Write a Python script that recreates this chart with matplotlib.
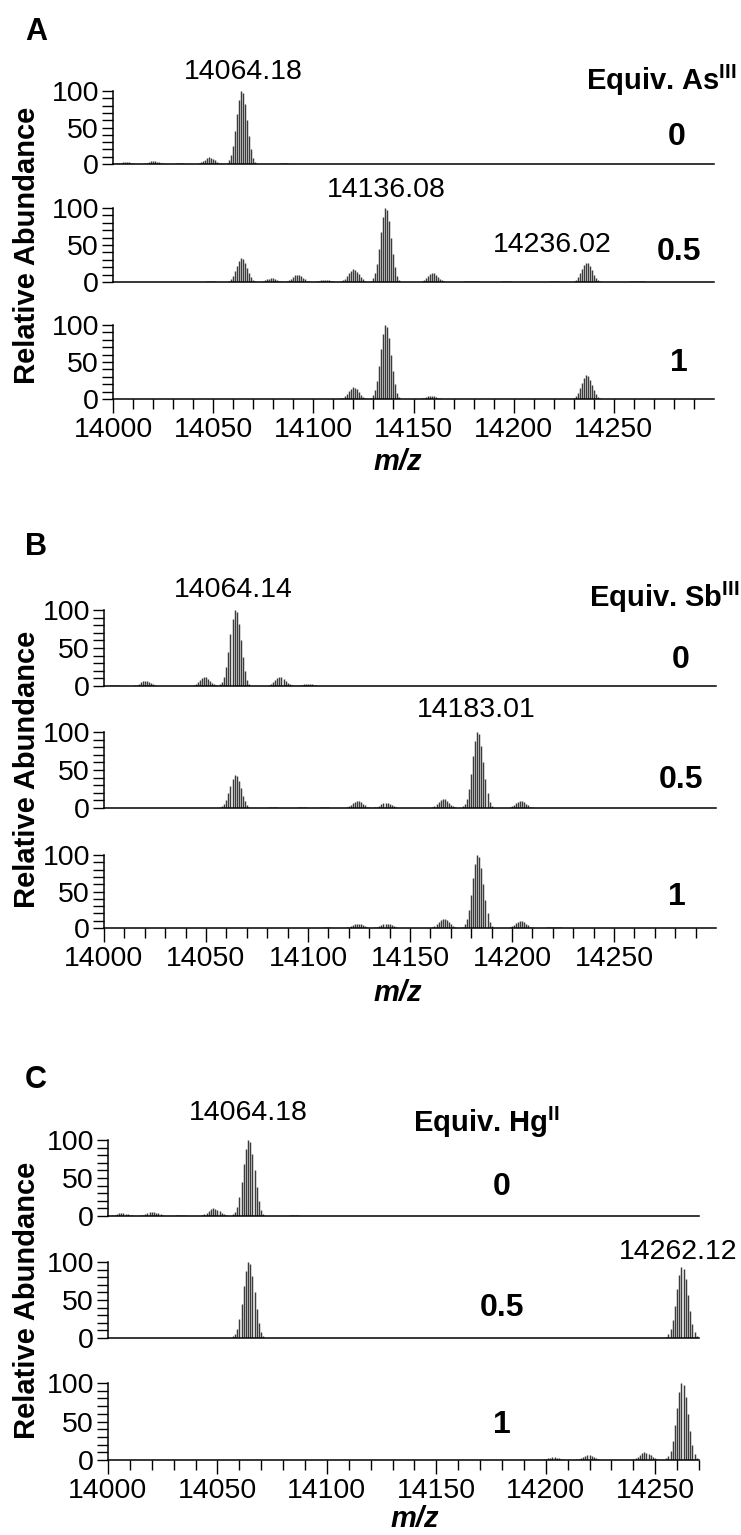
import matplotlib
matplotlib.use("Agg")
import matplotlib.pyplot as plt
import numpy as np

plt.rcParams['font.family'] = ['Liberation Sans', 'DejaVu Sans']
plt.rcParams['mathtext.fontset'] = 'custom'
plt.rcParams['mathtext.rm'] = 'Liberation Sans'
plt.rcParams['mathtext.bf'] = 'Liberation Sans:bold'

# peak clusters: centre m/z and relative height
A0_MZ = [14006, 14020, 14033, 14048, 14064, 14085]
A0_INT = [3, 4, 1, 9, 100, 1]
A05_MZ = [14008, 14025, 14049, 14064, 14079, 14092, 14106, 14120, 14136, 14159, 14178, 14196, 14220, 14236, 14261]
A05_INT = [0.5, 0.5, 1, 32, 5, 10, 3, 17, 100, 12, 2, 1, 1, 26, 2]
A1_MZ = [14120, 14136, 14158, 14236]
A1_INT = [16, 100, 4.5, 32]

B0_MZ = [14005, 14020, 14049, 14064, 14086, 14100]
B0_INT = [1, 7, 12, 100, 12, 3]
B05_MZ = [14064, 14083, 14097, 14108, 14124, 14138, 14166, 14183, 14204]
B05_INT = [43, 1, 1, 1, 9.5, 7, 12, 100, 9]
B1_MZ = [14109, 14124, 14138, 14166, 14183, 14204, 14220, 14236]
B1_INT = [1, 6, 6, 13, 100, 10, 2, 0.5]

C0_MZ = [14006, 14020, 14033, 14048, 14064, 14085]
C0_INT = [4, 5.5, 1, 10, 100, 1]
C05_MZ = [14064, 14262]
C05_INT = [100, 94]
C1_MZ = [14203, 14219, 14245, 14262]
C1_INT = [3.5, 6.5, 10, 100]

# isotope envelope shape (relative stick heights at -7..+7 Da), read from main peak
PROFILE_OFFSETS = [-7, -6, -5, -4, -3, -2, -1, 0, 1, 2, 3, 4, 5, 6, 7]
PROFILE = [0.02, 0.05, 0.12, 0.25, 0.45, 0.68, 0.88, 1.0, 0.97, 0.82, 0.6, 0.38, 0.2, 0.08, 0.03]

W, H = 741, 1535
fig = plt.figure(figsize=(W / 100, H / 100), dpi=100)


def fx(x):
    return x / W


def fy(y):
    return 1 - y / H


def make_ax(x0, x1, ytop, ybot, xmax, bottom, minor_end, mz, inten):
    ax = fig.add_axes([fx(x0), fy(ybot), fx(x1 - x0), (ybot - ytop) / H])
    for c, h in zip(mz, inten):
        xs = [c + o for o in PROFILE_OFFSETS]
        ys = [h * p for p in PROFILE]
        ax.vlines(xs, 0, ys, colors='#3c3c3c', lw=1.05)
    ax.set_xlim(14000, xmax)
    ax.set_ylim(0, 100)
    for s in ['top', 'right']:
        ax.spines[s].set_visible(False)
    ax.spines['left'].set_linewidth(1.1)
    ax.spines['bottom'].set_linewidth(1.1)
    ax.set_yticks([0, 50, 100])
    ax.set_yticks(np.arange(0, 101, 10), minor=True)
    ax.tick_params(axis='y', which='both', direction='out', length=8, width=1,
                   labelsize=20.5, pad=2)
    if bottom:
        ax.set_xticks(np.arange(14000, 14251, 50))
        ax.set_xticks(np.arange(14000, minor_end + 1, 10), minor=True)
        ax.tick_params(axis='x', which='major', direction='out', length=10, width=1,
                       labelsize=20.5, pad=3)
        ax.tick_params(axis='x', which='minor', direction='out', length=7, width=1)
    else:
        ax.set_xticks([])
    return ax


# panel A
make_ax(113, 714, 91, 164, 14300, False, 14290, A0_MZ, A0_INT)
make_ax(113, 714, 208, 282, 14300, False, 14290, A05_MZ, A05_INT)
make_ax(113, 714, 325, 399, 14300, True, 14290, A1_MZ, A1_INT)
# panel B
make_ax(104, 716, 610, 686, 14300, False, 14290, B0_MZ, B0_INT)
make_ax(104, 716, 732, 808, 14300, False, 14290, B05_MZ, B05_INT)
make_ax(104, 716, 855, 928, 14300, True, 14290, B1_MZ, B1_INT)
# panel C
make_ax(108, 699, 1140, 1216, 14270, False, 14270, C0_MZ, C0_INT)
make_ax(108, 699, 1262, 1338, 14270, False, 14270, C05_MZ, C05_INT)
make_ax(108, 699, 1383, 1460, 14270, True, 14270, C1_MZ, C1_INT)


def txt(x, y, s, size=20.5, weight='normal', ha='center', style='normal', rot=0):
    fig.text(fx(x), fy(y), s, fontsize=size, fontweight=weight, ha=ha, va='center',
             style=style, rotation=rot)


# panel letters
txt(36, 32, 'A', 22, 'bold')
txt(36, 547, 'B', 22, 'bold')
txt(36, 1080, 'C', 22, 'bold')

# peak labels
txt(243, 72, '14064.18')
txt(386, 190, '14136.08')
txt(552, 245, '14236.02')
txt(233, 590, '14064.14')
txt(476, 710, '14183.01')
txt(248, 1113, '14064.18')
txt(737, 1252, '14262.12', ha='right')

# equivalents
txt(737, 80, r'Equiv. As$^{\mathbf{III}}$', 21, 'bold', ha='right')
txt(740, 597, r'Equiv. Sb$^{\mathbf{III}}$', 21, 'bold', ha='right')
txt(486, 1122, r'Equiv. Hg$^{\mathbf{II}}$', 21, 'bold')
for x, y, s in [(677, 137, '0'), (679, 252, '0.5'), (679, 363, '1'),
                (681, 660, '0'), (681, 780, '0.5'), (677, 897, '1'),
                (502, 1187, '0'), (502, 1308, '0.5'), (502, 1425, '1')]:
    txt(x, y, s, 23, 'bold')

# axis titles
for y in [245, 769, 1300]:
    txt(27, y, 'Relative Abundance', 21, 'bold', rot=90)
txt(398, 462, 'm/z', 21, 'bold', style='italic')
txt(398, 993, 'm/z', 21, 'bold', style='italic')
txt(415, 1519, 'm/z', 21, 'bold', style='italic')

fig.savefig('out.png', dpi=100)
